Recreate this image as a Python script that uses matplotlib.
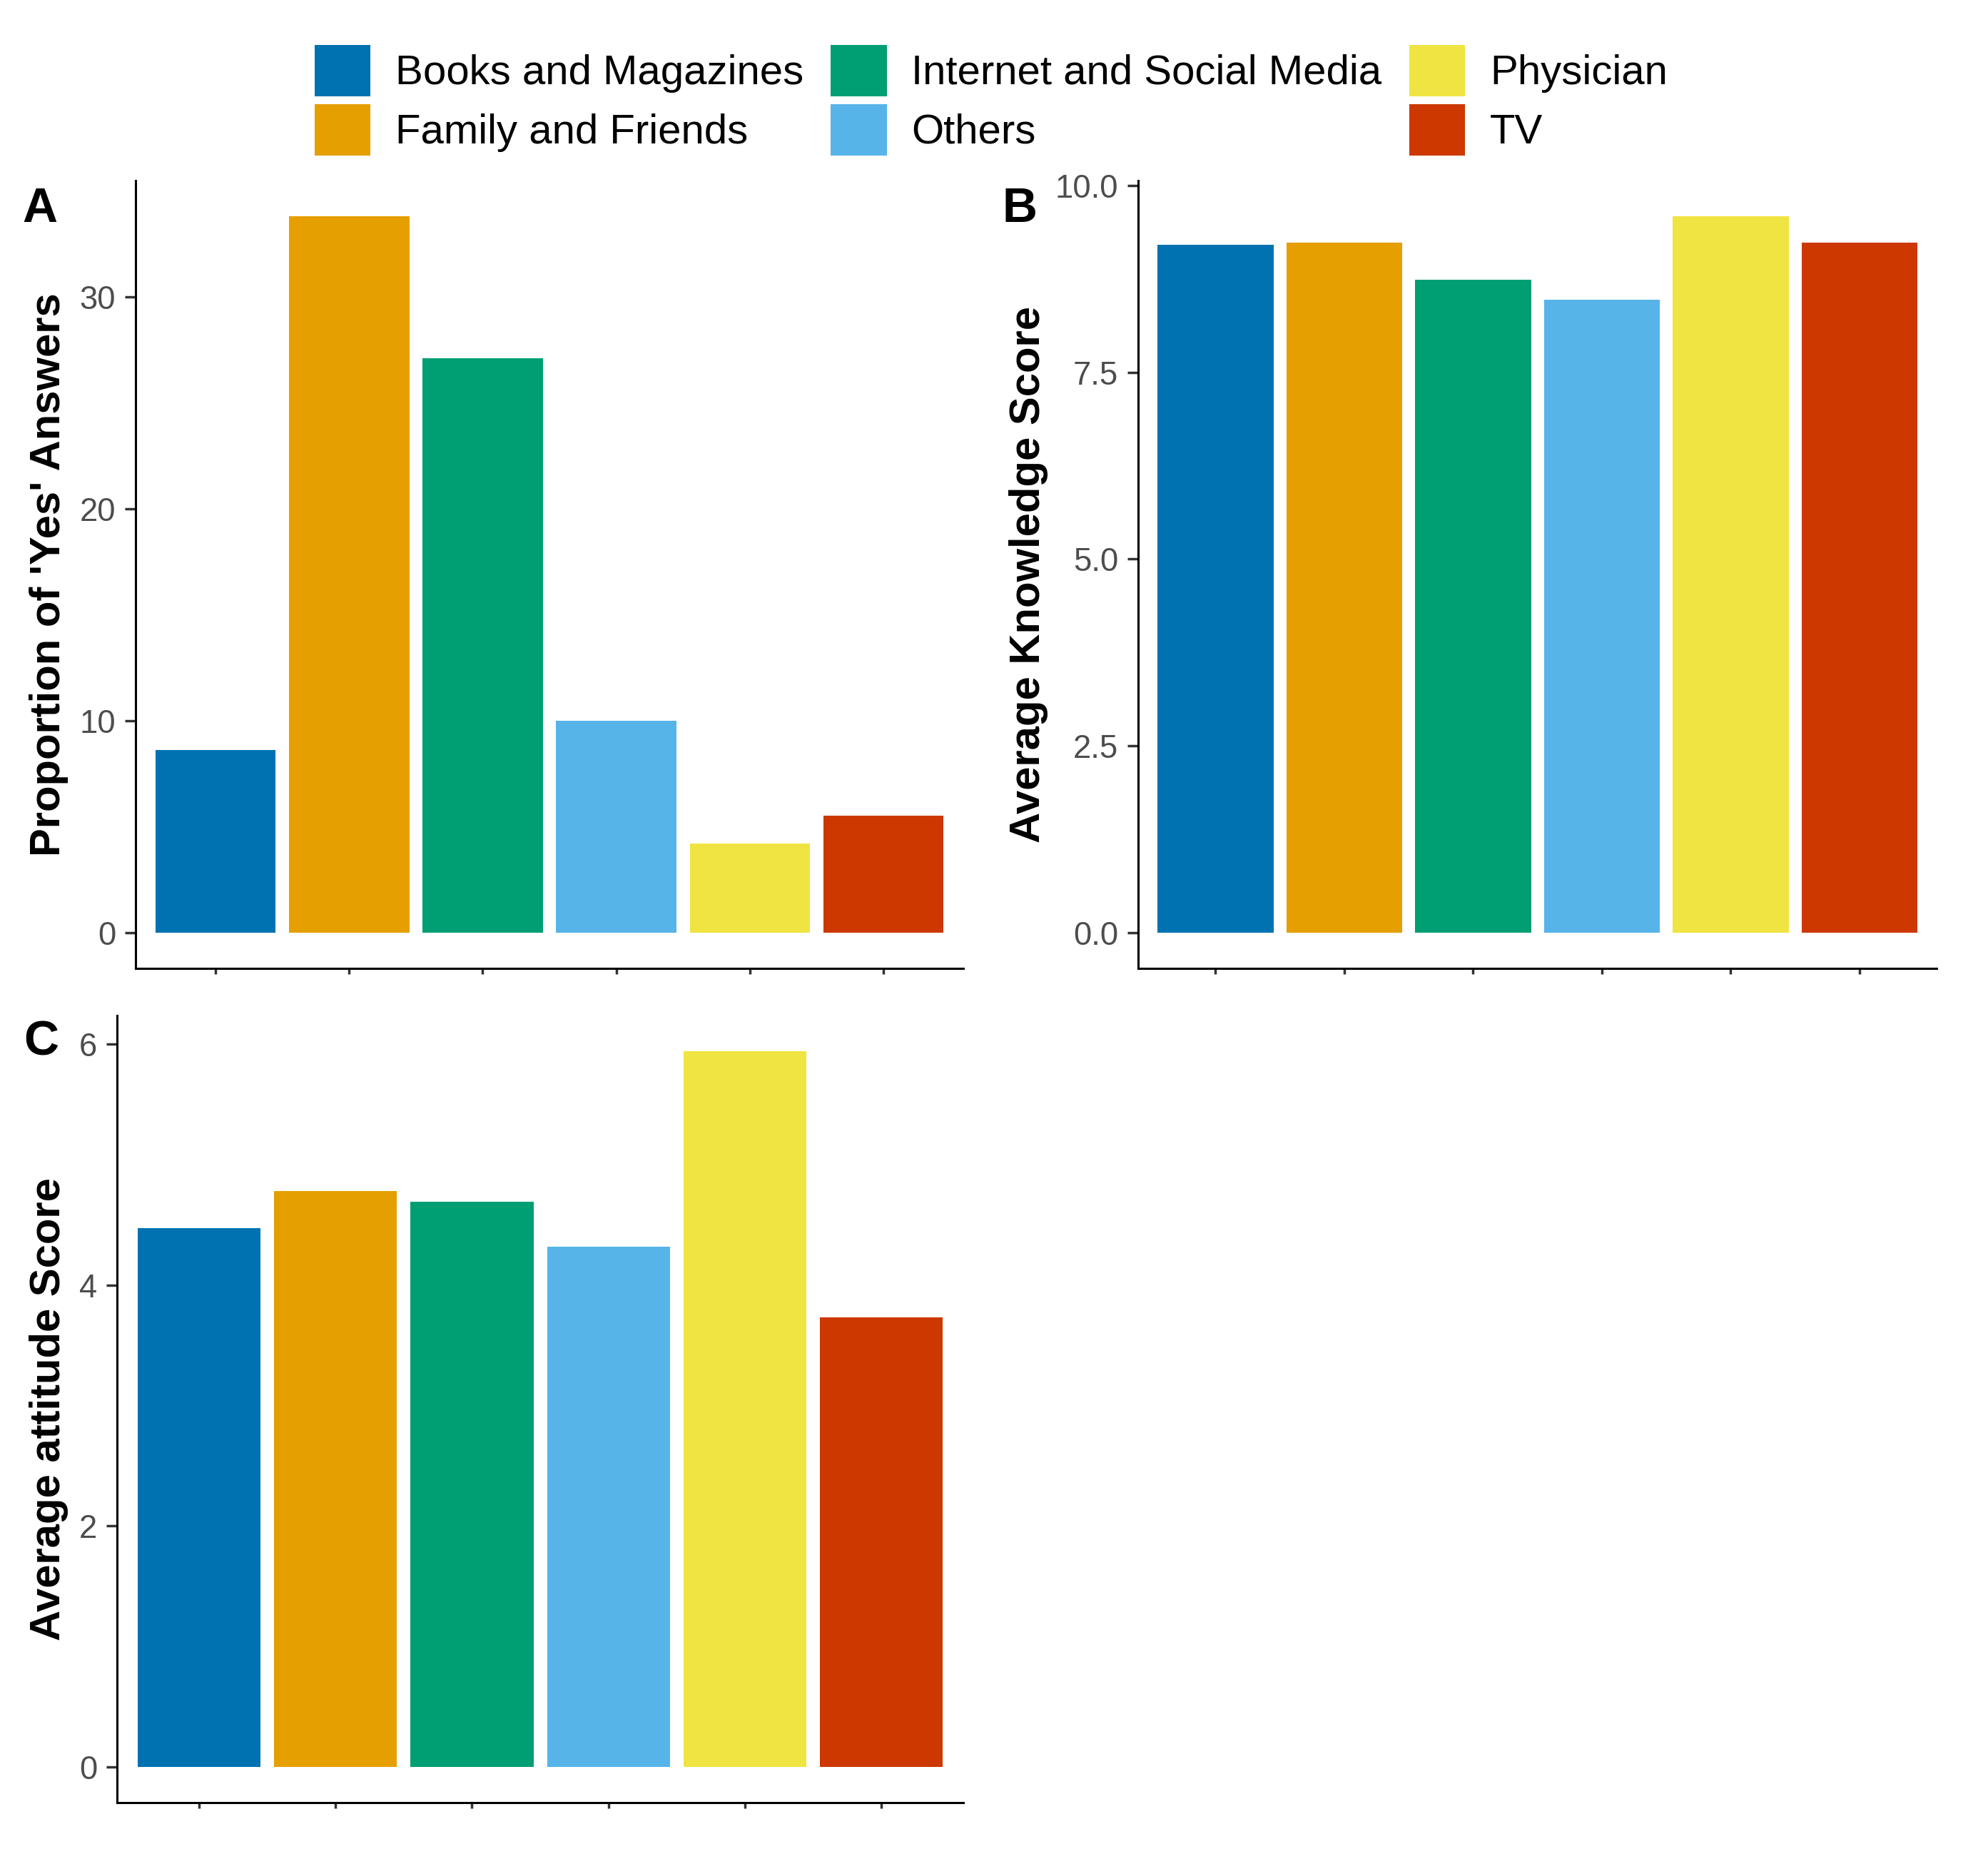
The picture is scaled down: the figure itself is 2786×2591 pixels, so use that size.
import matplotlib
matplotlib.use("Agg")
import matplotlib.pyplot as plt
from matplotlib.patches import Patch
from matplotlib import font_manager
import numpy as np

# data
sources = ["Books and Magazines", "Family and Friends", "Internet and Social Media",
           "Others", "Physician", "TV"]
colors = ["#0072B2", "#E69F00", "#009E73", "#56B4E9", "#F0E442", "#CC3800"]

yes_proportion = [8.6, 33.8, 27.1, 10.0, 4.2, 5.5]
knowledge_score = [9.21, 9.24, 8.74, 8.47, 9.59, 9.24]
attitude_score = [4.47, 4.78, 4.69, 4.32, 5.94, 3.73]

ticks_a = [0, 10, 20, 30]
ticks_b = [0.0, 2.5, 5.0, 7.5, 10.0]
ticks_c = [0, 2, 4, 6]

# narrow font for ticks / legend if installed
names = {f.name for f in font_manager.fontManager.ttflist}
if "Liberation Sans Narrow" in names:
    narrow, scale = "Liberation Sans Narrow", 1.0
else:
    narrow, scale = "Liberation Sans", 0.82

plt.rcParams["font.family"] = "Liberation Sans"

fig = plt.figure(figsize=(27.86, 25.91), dpi=100)

x = np.arange(1, len(sources) + 1)


def bar_panel(rect, values, ticks, fmt, ylabel, letter, label_x, letter_pos):
    ax = fig.add_axes(rect)
    ax.bar(x, values, width=0.9, color=colors, edgecolor="none")
    top = max(values)
    ax.set_ylim(-0.05 * top, 1.05 * top)
    ax.set_xlim(0.4, 6.6)
    ax.set_xticks(x)
    ax.set_xticklabels([])
    ax.set_yticks(ticks)
    ax.set_yticklabels([fmt.format(t) for t in ticks], fontfamily=narrow,
                       fontsize=40 * scale, color="#4D4D4D")
    for side in ["top", "right"]:
        ax.spines[side].set_visible(False)
    for side in ["left", "bottom"]:
        ax.spines[side].set_linewidth(2.2)
        ax.spines[side].set_color("black")
    ax.tick_params(axis="y", length=11, width=2.5, color="#333333", pad=9)
    ax.tick_params(axis="x", length=6, width=2.5, color="#333333")
    ax.set_ylabel(ylabel, fontsize=43, fontweight="bold", va="center")
    ax.yaxis.set_label_coords(label_x, 0.5)
    fig.text(letter_pos[0], letter_pos[1], letter, fontsize=49, fontweight="bold",
             ha="left", va="baseline")
    return ax


bar_panel([0.0682, 0.4763, 0.4164, 0.4261], yes_proportion, ticks_a, "{:.0f}",
          "Proportion of 'Yes' Answers", "A", -0.105, (0.0112, 0.880))
bar_panel([0.5725, 0.4763, 0.4017, 0.4261], knowledge_score, ticks_b, "{:.1f}",
          "Average Knowledge Score", "B", -0.137, (0.5040, 0.880))
bar_panel([0.0589, 0.0251, 0.4257, 0.4257], attitude_score, ticks_c, "{:.0f}",
          "Average attitude Score", "C", -0.081, (0.0118, 0.4292))

handles = [Patch(facecolor=c, edgecolor="none") for c in colors]
fig.legend(handles, sources, loc="upper center", bbox_to_anchor=(0.4985, 0.987),
           ncol=3, frameon=False, prop={"family": narrow, "size": 51 * scale},
           handlelength=1.345, handleheight=1.53, handletextpad=0.6,
           labelspacing=0.19, columnspacing=0.66, borderpad=0.0)

fig.savefig("out.png", dpi=100, facecolor="white")
